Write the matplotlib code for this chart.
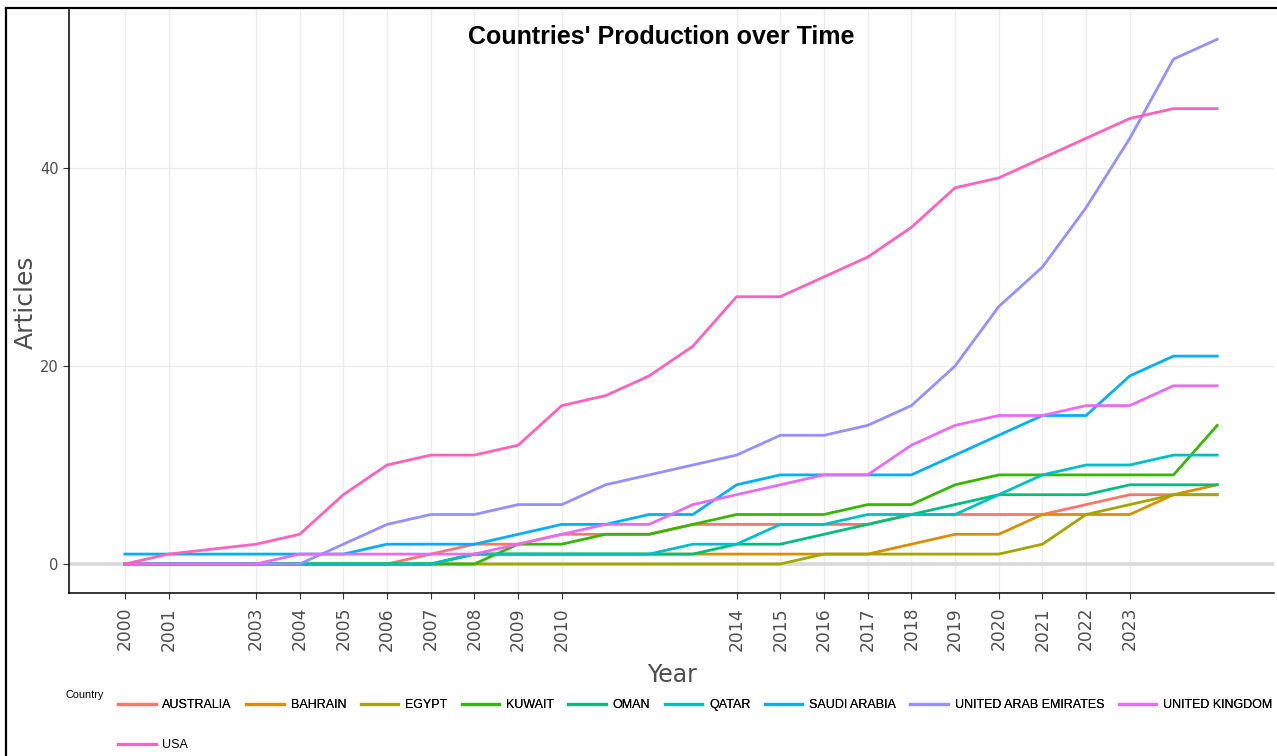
import matplotlib
matplotlib.use("Agg")
import matplotlib.pyplot as plt
from matplotlib import font_manager
from matplotlib.lines import Line2D

# data (cumulative articles per country)
years = [2000, 2001, 2003, 2004, 2005, 2006, 2007, 2008, 2009, 2010, 2011, 2012, 2013,
         2014, 2015, 2016, 2017, 2018, 2019, 2020, 2021, 2022, 2023, 2024, 2025]
australia = [0, 0, 0, 0, 0, 0, 1, 2, 2, 3, 3, 3, 4, 4, 4, 4, 4, 5, 5, 5, 5, 6, 7, 7, 7]
bahrain   = [0, 0, 0, 0, 0, 0, 0, 1, 1, 1, 1, 1, 1, 1, 1, 1, 1, 2, 3, 3, 5, 5, 5, 7, 8]
egypt     = [0, 0, 0, 0, 0, 0, 0, 0, 0, 0, 0, 0, 0, 0, 0, 1, 1, 1, 1, 1, 2, 5, 6, 7, 7]
kuwait    = [0, 0, 0, 0, 0, 0, 0, 0, 2, 2, 3, 3, 4, 5, 5, 5, 6, 6, 8, 9, 9, 9, 9, 9, 14]
oman      = [0, 0, 0, 0, 0, 0, 0, 1, 1, 1, 1, 1, 1, 2, 2, 3, 4, 5, 6, 7, 7, 7, 8, 8, 8]
qatar     = [0, 0, 0, 0, 0, 0, 0, 1, 1, 1, 1, 1, 2, 2, 4, 4, 5, 5, 5, 7, 9, 10, 10, 11, 11]
saudi     = [1, 1, 1, 1, 1, 2, 2, 2, 3, 4, 4, 5, 5, 8, 9, 9, 9, 9, 11, 13, 15, 15, 19, 21, 21]
uae       = [0, 0, 0, 0, 2, 4, 5, 5, 6, 6, 8, 9, 10, 11, 13, 13, 14, 16, 20, 26, 30, 36, 43, 51, 53]
uk        = [0, 0, 0, 1, 1, 1, 1, 1, 2, 3, 4, 4, 6, 7, 8, 9, 9, 12, 14, 15, 15, 16, 16, 18, 18]
usa       = [0, 1, 2, 3, 7, 10, 11, 11, 12, 16, 17, 19, 22, 27, 27, 29, 31, 34, 38, 39, 41, 43, 45, 46, 46]

countries = ["AUSTRALIA", "BAHRAIN", "EGYPT", "KUWAIT", "OMAN", "QATAR", "SAUDI ARABIA",
             "UNITED ARAB EMIRATES", "UNITED KINGDOM", "USA"]
series = [australia, bahrain, egypt, kuwait, oman, qatar, saudi, uae, uk, usa]
colors = ["#F8766D", "#D89000", "#A3A500", "#39B600", "#00BF7D", "#00BFC4", "#00B0F6",
          "#9590FF", "#E76BF3", "#FF62BC"]
xticks = [2000, 2001, 2003, 2004, 2005, 2006, 2007, 2008, 2009, 2010,
          2014, 2015, 2016, 2017, 2018, 2019, 2020, 2021, 2022, 2023]
yticks = [0, 20, 40]

names = {f.name for f in font_manager.fontManager.ttflist}
if "Liberation Sans Narrow" in names:
    NF = "Liberation Sans Narrow"; leg_fs = 11; title_fs = 20; ctry_fs = 9.5
else:
    NF = "Liberation Sans"; leg_fs = 9; title_fs = 18; ctry_fs = 7.8

W, H = 1277, 756
fig = plt.figure(figsize=(W / 100, H / 100), dpi=100)
ax = fig.add_axes([69 / W, 1 - 593 / H, (1274 - 69) / W, (593 - 10) / H])

ax.axhline(0, color="#d9d9d9", lw=2.6, zorder=1)
for vals, col in zip(series, colors):
    ax.plot(years, vals, color=col, lw=2.0, zorder=3, solid_joinstyle="round")

ax.set_xlim(1998.72, 2026.3)
ax.set_ylim(-2.93, 55.96)
ax.set_xticks(xticks)
ax.set_yticks(yticks)
ax.grid(True, color="#ebebeb", lw=1.0, zorder=0)
ax.set_axisbelow(True)
for s in ("top", "right"):
    ax.spines[s].set_visible(False)
for s in ("left", "bottom"):
    ax.spines[s].set_color("black")
    ax.spines[s].set_linewidth(1.1)
ax.tick_params(axis="x", labelrotation=90, labelsize=12.3, length=4, color="#333333",
               labelcolor="#4d4d4d", pad=6)
ax.tick_params(axis="y", labelsize=10.5, length=4, color="#333333", labelcolor="#4d4d4d")

ax.text((661 - 69) / (1274 - 69), (593 - 37) / 583, "Countries' Production over Time",
        transform=ax.transAxes, ha="center", va="center", fontsize=title_fs,
        fontweight="bold", family=[NF, "DejaVu Sans"], color="black")

fig.text(672 / W, 1 - 675 / H, "Year", ha="center", va="center", fontsize=17, color="#4d4d4d")
fig.text(26 / W, 1 - 302 / H, "Articles", ha="center", va="center", rotation=90,
         fontsize=18, color="#4d4d4d")

# legend
handles = [Line2D([0], [0], color=c, lw=2.3) for c in colors]
fig.text(66 / W, 1 - 695 / H, "Country", ha="left", va="center", fontsize=ctry_fs,
         family=[NF, "DejaVu Sans"], color="black")
leg_kw = dict(loc="center left", frameon=False, borderpad=0, borderaxespad=0,
              handlelength=3.0, handletextpad=0.55, columnspacing=1.15,
              prop={"family": NF, "size": leg_fs})
leg1 = fig.legend(handles[:9], countries[:9], ncol=9,
                  bbox_to_anchor=(118 / W, 1 - 705 / H), **leg_kw)
fig.legend(handles[9:], countries[9:], bbox_to_anchor=(118 / W, 1 - 745 / H), **leg_kw)
fig.add_artist(leg1)

# outer frame (left and top edges visible)
fig.add_artist(Line2D([6 / W, 6 / W], [0, 1 - 8 / H], color="black", lw=1.6))
fig.add_artist(Line2D([6 / W, 1], [1 - 8 / H, 1 - 8 / H], color="black", lw=1.6))

fig.savefig("out.png", dpi=100)
